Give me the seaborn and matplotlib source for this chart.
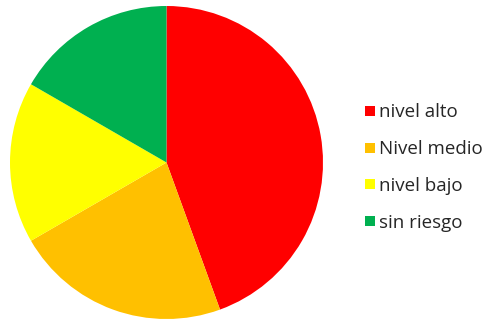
import matplotlib
matplotlib.use('Agg')

import matplotlib.pyplot as plt
from matplotlib.lines import Line2D
import seaborn as sns

labels = ["nivel alto", "Nivel medio", "nivel bajo", "sin riesgo"]
values = [8, 4, 3, 3]
colors = ["#FF0000", "#FFC000", "#FFFF00", "#00B050"]

sns.set_theme(style="white")
plt.rcParams['font.family'] = ['Open Sans', 'DejaVu Sans']

fig = plt.figure(figsize=(4.92, 3.2), dpi=100)
ax = fig.add_axes([10 / 492, 1 / 320, 313 / 492, 313 / 320])

ax.pie(values, colors=colors, startangle=90, counterclock=False,
       wedgeprops=dict(linewidth=0), radius=1)
ax.set_xlim(-1.0, 1.0)
ax.set_ylim(-1.0, 1.0)
ax.set_aspect('equal')
ax.axis('off')

handles = [Line2D([0], [0], marker='s', linestyle='none', markersize=7.5,
                  markerfacecolor=c, markeredgewidth=0) for c in colors]
fig.legend(handles, labels, loc='upper left', bbox_to_anchor=(355 / 492, 1 - 94 / 320),
           frameon=False, fontsize=13.5, handlelength=0.55, handletextpad=0.25,
           labelspacing=1.0, borderpad=0)

fig.savefig("out.png", dpi=100)
